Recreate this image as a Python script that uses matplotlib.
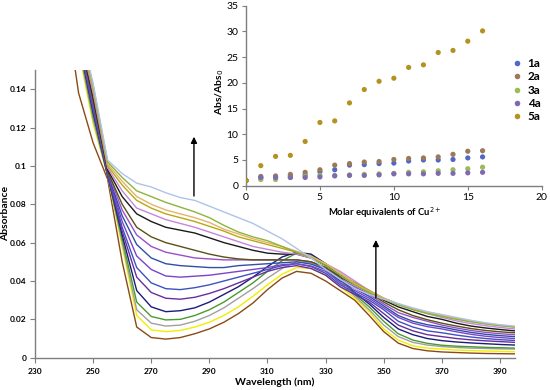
import matplotlib
matplotlib.use("Agg")
import matplotlib.pyplot as plt
from matplotlib.lines import Line2D

plt.rcParams['font.family'] = ['Lato', 'DejaVu Sans']

# ---------------- main spectra data ----------------
wavelength = [240, 245, 250, 255, 260, 265, 270, 275, 280, 285, 290, 295, 300, 305, 310, 315,
              320, 325, 330, 335, 340, 345, 350, 355, 360, 365, 370, 375, 380, 385, 390, 395]

eq0 = [0.190, 0.138, 0.112, 0.093, 0.050, 0.016, 0.0105, 0.0097, 0.0105, 0.0125, 0.0150, 0.0185, 0.0230, 0.0285, 0.0355, 0.0415,
       0.0450, 0.0440, 0.0400, 0.0350, 0.0300, 0.0220, 0.0136, 0.0076, 0.0048, 0.0036, 0.0030, 0.0027, 0.0024, 0.0022, 0.0021, 0.0020]
eq1 = [0.205, 0.160, 0.122, 0.095, 0.058, 0.022, 0.0145, 0.0136, 0.0142, 0.0160, 0.0185, 0.0220, 0.0265, 0.0320, 0.0380, 0.0435,
       0.0470, 0.0465, 0.0430, 0.0370, 0.0310, 0.0240, 0.0150, 0.0092, 0.0062, 0.0050, 0.0045, 0.0040, 0.0037, 0.0035, 0.0033, 0.0031]
eq2 = [0.205, 0.162, 0.124, 0.095, 0.060, 0.025, 0.0180, 0.0165, 0.0170, 0.0190, 0.0220, 0.0260, 0.0310, 0.0360, 0.0415, 0.0465,
       0.0500, 0.0495, 0.0460, 0.0390, 0.0320, 0.0250, 0.0170, 0.0110, 0.0080, 0.0066, 0.0058, 0.0053, 0.0050, 0.0048, 0.0046, 0.0045]
eq3 = [0.210, 0.164, 0.126, 0.095, 0.062, 0.029, 0.0215, 0.0197, 0.0200, 0.0220, 0.0250, 0.0290, 0.0340, 0.0390, 0.0450, 0.0505,
       0.0545, 0.0535, 0.0490, 0.0410, 0.0330, 0.0265, 0.0190, 0.0125, 0.0092, 0.0075, 0.0065, 0.0060, 0.0057, 0.0054, 0.0052, 0.0050]
eq4 = [0.210, 0.165, 0.128, 0.095, 0.064, 0.035, 0.0265, 0.0240, 0.0245, 0.0260, 0.0290, 0.0330, 0.0370, 0.0420, 0.0475, 0.0525,
       0.0550, 0.0540, 0.0490, 0.0420, 0.0340, 0.0280, 0.0210, 0.0150, 0.0120, 0.0100, 0.0089, 0.0082, 0.0077, 0.0073, 0.0069, 0.0066]
eq5 = [0.210, 0.166, 0.129, 0.095, 0.066, 0.042, 0.0340, 0.0310, 0.0305, 0.0315, 0.0335, 0.0360, 0.0390, 0.0420, 0.0450, 0.0470,
       0.0480, 0.0465, 0.0430, 0.0370, 0.0330, 0.0290, 0.0230, 0.0170, 0.0140, 0.0120, 0.0110, 0.0100, 0.0093, 0.0088, 0.0084, 0.0080]
eq6 = [0.210, 0.166, 0.130, 0.096, 0.068, 0.047, 0.0390, 0.0360, 0.0355, 0.0365, 0.0380, 0.0400, 0.0420, 0.0440, 0.0460, 0.0480,
       0.0490, 0.0475, 0.0440, 0.0380, 0.0340, 0.0300, 0.0250, 0.0190, 0.0160, 0.0140, 0.0130, 0.0118, 0.0108, 0.0100, 0.0094, 0.0090]
eq7 = [0.210, 0.167, 0.131, 0.096, 0.071, 0.053, 0.0460, 0.0426, 0.0420, 0.0425, 0.0430, 0.0440, 0.0450, 0.0460, 0.0470, 0.0485,
       0.0490, 0.0478, 0.0450, 0.0390, 0.0350, 0.0310, 0.0260, 0.0210, 0.0180, 0.0162, 0.0150, 0.0135, 0.0122, 0.0112, 0.0105, 0.0100]
eq8 = [0.210, 0.168, 0.132, 0.096, 0.074, 0.059, 0.0520, 0.0490, 0.0480, 0.0475, 0.0470, 0.0470, 0.0480, 0.0485, 0.0490, 0.0495,
       0.0500, 0.0488, 0.0460, 0.0400, 0.0360, 0.0320, 0.0270, 0.0220, 0.0190, 0.0172, 0.0160, 0.0145, 0.0132, 0.0122, 0.0115, 0.0110]
eq9 = [0.210, 0.168, 0.133, 0.097, 0.077, 0.064, 0.0580, 0.0550, 0.0535, 0.0520, 0.0515, 0.0510, 0.0510, 0.0510, 0.0510, 0.0510,
       0.0510, 0.0500, 0.0470, 0.0410, 0.0370, 0.0330, 0.0280, 0.0235, 0.0210, 0.0190, 0.0170, 0.0155, 0.0142, 0.0132, 0.0125, 0.0120]
eq10 = [0.210, 0.169, 0.134, 0.097, 0.080, 0.068, 0.0630, 0.0600, 0.0580, 0.0560, 0.0540, 0.0525, 0.0515, 0.0510, 0.0510, 0.0510,
        0.0510, 0.0500, 0.0470, 0.0420, 0.0380, 0.0340, 0.0290, 0.0250, 0.0220, 0.0198, 0.0180, 0.0165, 0.0152, 0.0142, 0.0135, 0.0130]
eq11 = [0.210, 0.170, 0.136, 0.098, 0.084, 0.075, 0.0710, 0.0680, 0.0665, 0.0650, 0.0625, 0.0600, 0.0580, 0.0560, 0.0545, 0.0540,
        0.0540, 0.0520, 0.0480, 0.0430, 0.0390, 0.0350, 0.0300, 0.0265, 0.0240, 0.0215, 0.0200, 0.0180, 0.0165, 0.0155, 0.0147, 0.0140]
eq12 = [0.210, 0.171, 0.138, 0.099, 0.087, 0.078, 0.0750, 0.0720, 0.0700, 0.0680, 0.0655, 0.0630, 0.0605, 0.0580, 0.0565, 0.0550,
        0.0540, 0.0520, 0.0490, 0.0450, 0.0400, 0.0350, 0.0310, 0.0280, 0.0255, 0.0230, 0.0210, 0.0192, 0.0178, 0.0167, 0.0158, 0.0150]
eq13 = [0.210, 0.172, 0.140, 0.100, 0.090, 0.082, 0.0780, 0.0750, 0.0730, 0.0710, 0.0685, 0.0660, 0.0630, 0.0610, 0.0590, 0.0570,
        0.0550, 0.0525, 0.0490, 0.0440, 0.0390, 0.0350, 0.0310, 0.0280, 0.0255, 0.0235, 0.0220, 0.0205, 0.0190, 0.0178, 0.0168, 0.0160]
eq14 = [0.210, 0.173, 0.141, 0.101, 0.092, 0.084, 0.0800, 0.0770, 0.0750, 0.0730, 0.0705, 0.0670, 0.0645, 0.0620, 0.0600, 0.0580,
        0.0555, 0.0530, 0.0490, 0.0440, 0.0385, 0.0345, 0.0310, 0.0280, 0.0257, 0.0238, 0.0222, 0.0207, 0.0192, 0.0180, 0.0170, 0.0162]
eq15 = [0.210, 0.174, 0.142, 0.102, 0.094, 0.087, 0.0840, 0.0810, 0.0785, 0.0760, 0.0730, 0.0690, 0.0655, 0.0630, 0.0610, 0.0580,
        0.0550, 0.0520, 0.0480, 0.0430, 0.0380, 0.0340, 0.0305, 0.0275, 0.0250, 0.0230, 0.0215, 0.0200, 0.0187, 0.0176, 0.0167, 0.0160]
eq16 = [0.210, 0.175, 0.143, 0.103, 0.096, 0.091, 0.0890, 0.0860, 0.0835, 0.0820, 0.0790, 0.0760, 0.0730, 0.0700, 0.0660, 0.0620,
        0.0570, 0.0520, 0.0460, 0.0410, 0.0360, 0.0330, 0.0305, 0.0282, 0.0260, 0.0240, 0.0225, 0.0210, 0.0195, 0.0182, 0.0172, 0.0165]

spectra = [eq0, eq1, eq2, eq3, eq4, eq5, eq6, eq7, eq8, eq9, eq10, eq11, eq12, eq13, eq14, eq15, eq16]
spectra_colors = ['#8B4A13', '#F2EE00', '#A0A0A0', '#4A9A30', '#1C1C78', '#6A2DA0', '#3E52C0', '#7A44C8',
                  '#2F4FA8', '#9A4FC8', '#5A5018', '#1A1A1A', '#C686DC', '#B8A810', '#E6B36A', '#8CB43C', '#AFC3EA']

x_ticks = [230, 250, 270, 290, 310, 330, 350, 370, 390]
y_ticks = [0, 0.02, 0.04, 0.06, 0.08, 0.1, 0.12, 0.14]
y_tick_labels = ['0', '0.02', '0.04', '0.06', '0.08', '0.1', '0.12', '0.14']

# ---------------- inset data ----------------
equivalents = list(range(17))
s1a = [1.0, 1.5, 1.7, 1.9, 2.1, 2.7, 3.1, 4.0, 4.1, 4.3, 4.4, 4.8, 5.0, 5.0, 5.1, 5.4, 5.6]
s2a = [1.0, 1.8, 1.9, 2.2, 2.6, 3.1, 4.0, 4.3, 4.6, 4.7, 5.1, 5.3, 5.4, 5.6, 6.1, 6.7, 6.8]
s3a = [1.0, 1.2, 1.2, 1.6, 1.8, 2.0, 2.0, 2.1, 2.2, 2.3, 2.4, 2.6, 2.7, 2.9, 3.1, 3.3, 3.6]
s4a = [1.0, 1.6, 1.6, 1.6, 1.6, 1.7, 1.9, 2.0, 2.0, 2.1, 2.3, 2.3, 2.3, 2.4, 2.4, 2.5, 2.6]
s5a = [1.0, 3.9, 5.7, 5.9, 8.6, 12.3, 12.6, 16.1, 18.7, 20.3, 20.9, 23.0, 23.5, 25.9, 26.3, 28.1, 30.1]
inset_names = ['1a', '2a', '3a', '4a', '5a']
inset_colors = ['#5068C8', '#9C7A58', '#9BBB59', '#7F6AB2', '#B39320']

# ---------------- figure ----------------
fig = plt.figure(figsize=(5.5, 3.9), dpi=100)
ax = fig.add_axes([35/550, (390-357.7)/390, (514.5-35)/550, (357.7-70)/390])

for ys, c in zip(spectra, spectra_colors):
    ax.plot(wavelength, ys, color=c, lw=1.0, solid_joinstyle='round')

ax.set_xlim(230, 395)
ax.set_ylim(0, 0.15)
ax.set_xticks(x_ticks)
ax.set_xticklabels([str(t) for t in x_ticks], fontsize=6, fontweight='bold')
ax.set_yticks(y_ticks)
ax.set_yticklabels(y_tick_labels, fontsize=6, fontweight='bold')
for s in ['top', 'right']:
    ax.spines[s].set_visible(False)
for s in ['left', 'bottom']:
    ax.spines[s].set_color('#7F7F7F')
    ax.spines[s].set_linewidth(1.0)
ax.tick_params(axis='both', direction='out', length=3.5, width=0.8, color='#7F7F7F', pad=2.5)
ax.tick_params(axis='x', pad=4)
ax.set_xlabel('Wavelength (nm)', fontsize=7.5, fontweight='bold')
ax.set_ylabel('Absorbance', fontsize=7.5, fontweight='bold')
ax.xaxis.set_label_coords(0.5, -0.068)
ax.yaxis.set_label_coords(-0.052, 0.5)

# arrows
ax.annotate('', xy=(284.7, 0.1152), xytext=(284.7, 0.0843),
            arrowprops=dict(arrowstyle='-|>', color='black', lw=1.0, mutation_scale=9, shrinkA=0, shrinkB=0))
ax.annotate('', xy=(347.3, 0.0614), xytext=(347.3, 0.0311),
            arrowprops=dict(arrowstyle='-|>', color='black', lw=1.0, mutation_scale=9, shrinkA=0, shrinkB=0))

# ---------------- inset ----------------
ins = fig.add_axes([246/550, (390-185.7)/390, (541.7-246)/550, (185.7-5.7)/390])
ins.set_facecolor('none')
handles = []
for ys, c, n in zip([s1a, s2a, s3a, s4a, s5a], inset_colors, inset_names):
    ins.scatter(equivalents, ys, s=14, color=c, edgecolors='none', zorder=3)
    handles.append(Line2D([], [], marker='o', ls='none', markersize=4, color=c, markeredgewidth=0, label=n))
ins.set_xlim(0, 20)
ins.set_ylim(0, 35)
ins.set_xticks([0, 5, 10, 15, 20])
ins.set_yticks([0, 5, 10, 15, 20, 25, 30, 35])
ins.tick_params(labelsize=7.5, direction='out', length=3, width=0.8, color='#7F7F7F', pad=2.5)
for s in ['top', 'right']:
    ins.spines[s].set_visible(False)
for s in ['left', 'bottom']:
    ins.spines[s].set_color('#7F7F7F')
    ins.spines[s].set_linewidth(1.0)
ins.set_xlabel('Molar equivalents of Cu$^{2+}$', fontsize=6.8, fontweight='bold')
ins.set_ylabel('Abs/Abs$_0$', fontsize=7.5, fontweight='bold')
ins.xaxis.set_label_coords(0.47, -0.11)
ins.yaxis.set_label_coords(-0.068, 0.52)

fig.legend(handles=handles, loc='upper left', bbox_to_anchor=(511/550, 1 - 58/390),
           frameon=False, borderpad=0, borderaxespad=0, handlelength=1.0, handletextpad=0.4,
           labelspacing=0.2, prop={'size': 8.5, 'weight': 'bold'})

fig.savefig('out.png', dpi=100)
